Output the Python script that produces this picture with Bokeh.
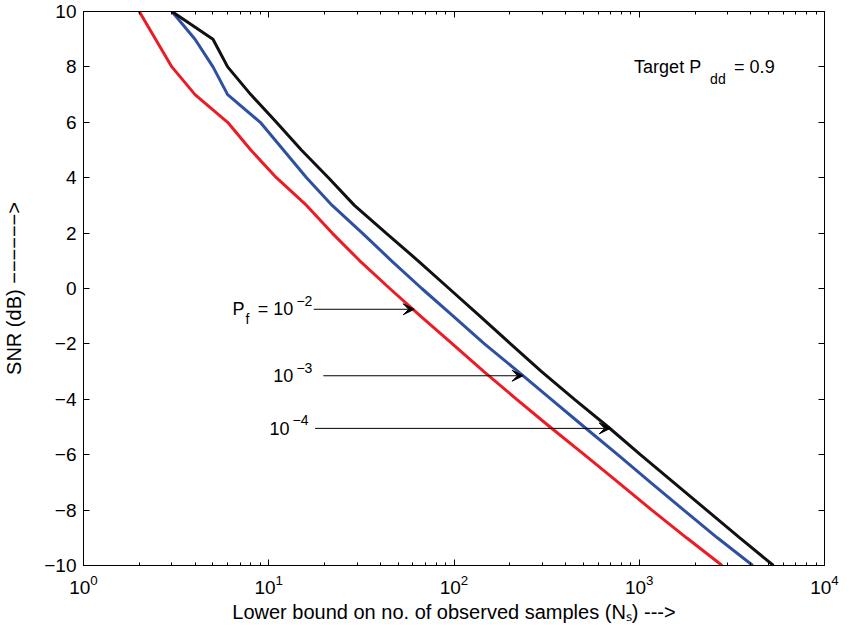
from bokeh.plotting import figure
from bokeh.models import (Range1d, LogAxis, LinearAxis, FixedTicker, LogTickFormatter,
                          CustomJSTickFormatter, Arrow, VeeHead, ColumnDataSource)
from bokeh.core.properties import value
from bokeh.embed import file_html
from bokeh.resources import INLINE

# ---------------- data ----------------
snr_red = [10, 8, 7, 6, 5, 4, 3, 2, 1, 0, -1, -2, -3, -4, -5, -6, -7, -8, -9, -10]
n_red = [2, 3, 4, 6, 8, 11, 16, 22, 31, 45, 66, 98, 145, 218, 330, 505, 770, 1170, 1800, 2800]

snr_blue = [10, 9, 8, 7, 6, 5, 4, 3, 2, 1, 0, -1, -2, -3, -4, -5, -6, -7, -8, -9, -10]
n_blue = [3, 4, 5, 6, 9, 12, 16, 22, 32, 46, 67, 99, 146, 222, 335, 505, 765, 1150, 1740, 2640, 4100]

snr_black = [10, 9, 8, 7, 6, 5, 4, 3, 2, 1, 0, -1, -2, -3, -4, -5, -6, -7, -8, -9, -10]
n_black = [3, 5, 6, 8, 11, 15, 21, 29, 43, 64, 94, 138, 202, 297, 447, 680, 1014, 1531, 2312, 3490, 5300]

x_ticks = [1, 10, 100, 1000, 10000]
y_ticks = [-10, -8, -6, -4, -2, 0, 2, 4, 6, 8, 10]

# annotation arrows (P_f labels)
arrow_y = [-0.75, -3.15, -5.05]
arrow_tail_x = [17.5, 19.7, 17.8]
arrow_tip_x = [61, 236, 697]
label_right_x = [17.2, 17.2, 16.4]
label_exp = ["\u22122", "\u22123", "\u22124"]

target_x = 938
target_y = 8.0

FONT = "Liberation Sans"
RED = "#ED1C24"
BLUE = "#2E4FA2"
BLACK = "#111111"

p = figure(width=841, height=625, x_axis_type="log",
           x_range=Range1d(1, 10000), y_range=Range1d(-10, 10),
           output_backend="svg", toolbar_location=None,
           min_border_left=75, min_border_right=17, min_border_top=11, min_border_bottom=60)
p.background_fill_color = "white"
p.border_fill_color = "white"
p.xgrid.visible = False
p.ygrid.visible = False
p.outline_line_color = "black"
p.outline_line_width = 1
p.outline_line_alpha = 1.0

minor = [m * 10 ** e for e in range(4) for m in range(2, 10)]


def style_axis(ax):
    ax.axis_line_color = "black"
    ax.axis_line_width = 1
    ax.major_tick_in = 6
    ax.major_tick_out = 0
    ax.minor_tick_in = 3
    ax.minor_tick_out = 0
    ax.major_tick_line_color = "black"
    ax.minor_tick_line_color = "black"
    ax.major_label_text_font = FONT
    ax.major_label_text_color = "black"
    ax.major_label_text_font_size = "19px"
    ax.axis_label_text_font = FONT
    ax.axis_label_text_font_style = "normal"
    ax.axis_label_text_font_size = "20px"
    ax.axis_label_text_color = "black"


blank = CustomJSTickFormatter(code="return ''")

xa = p.xaxis[0]
xa.ticker = FixedTicker(ticks=x_ticks, minor_ticks=minor)
xa.formatter = LogTickFormatter()
style_axis(xa)
xa.major_label_standoff = 9
xa.axis_label = "Lower bound on no. of observed samples (N\u209b) --->"
xa.axis_label_standoff = 4

ya = p.yaxis[0]
ya.ticker = FixedTicker(ticks=y_ticks, minor_ticks=[])
style_axis(ya)
ya.major_label_standoff = 7
ya.axis_label = "SNR (dB) \u2212\u2212\u2212\u2212\u2212\u2212>"
ya.axis_label_standoff = 16

top = LogAxis(ticker=FixedTicker(ticks=x_ticks, minor_ticks=minor), formatter=blank)
style_axis(top)
top.major_label_standoff = 0
p.add_layout(top, "above")

right = LinearAxis(ticker=FixedTicker(ticks=y_ticks, minor_ticks=[]), formatter=blank)
style_axis(right)
right.major_label_standoff = 0
p.add_layout(right, "right")

# ---------------- curves ----------------
p.line(n_red, snr_red, line_color=RED, line_width=3)
p.line(n_blue, snr_blue, line_color=BLUE, line_width=3)
p.line(n_black, snr_black, line_color=BLACK, line_width=3)

# ---------------- arrows ----------------
for xs, xe, yy in zip(arrow_tail_x, arrow_tip_x, arrow_y):
    p.add_layout(Arrow(x_start=xs, y_start=yy, x_end=xe, y_end=yy,
                       line_color="black", line_width=1,
                       end=VeeHead(size=11, fill_color="black", line_color="black", line_width=1)))

# label texts
main_src = ColumnDataSource(dict(x=label_right_x, y=arrow_y, t=["= 10", "10", "10"],
                                 xo=[-19, -19, -19]))
p.text(x="x", y="y", text="t", x_offset="xo", source=main_src, text_align="right",
       text_baseline="middle", text_font=value(FONT), text_font_size="18px", text_color="black")
exp_src = ColumnDataSource(dict(x=label_right_x, y=arrow_y, t=label_exp))
p.text(x="x", y="y", text="t", source=exp_src, text_align="right", y_offset=-8,
       text_baseline="middle", text_font=value(FONT), text_font_size="14px", text_color="black")
p.text(x=[label_right_x[0]], y=[arrow_y[0]], text=["P"], x_offset=-68, text_align="right",
       text_baseline="middle", text_font=value(FONT), text_font_size="18px", text_color="black")
p.text(x=[label_right_x[0]], y=[arrow_y[0]], text=["f"], x_offset=-67, y_offset=10, text_align="left",
       text_baseline="middle", text_font=value(FONT), text_font_size="14px", text_color="black")

# Target P_dd = 0.9
p.text(x=[target_x], y=[target_y], text=["Target P"], text_align="left", text_baseline="middle",
       text_font=value(FONT), text_font_size="18px", text_color="black")
p.text(x=[target_x], y=[target_y], text=["dd"], x_offset=76, y_offset=12, text_align="left",
       text_baseline="middle", text_font=value(FONT), text_font_size="14px", text_color="black")
p.text(x=[target_x], y=[target_y], text=["= 0.9"], x_offset=100, text_align="left",
       text_baseline="middle", text_font=value(FONT), text_font_size="18px", text_color="black")

open("out.html", "w").write(file_html(p, INLINE))
